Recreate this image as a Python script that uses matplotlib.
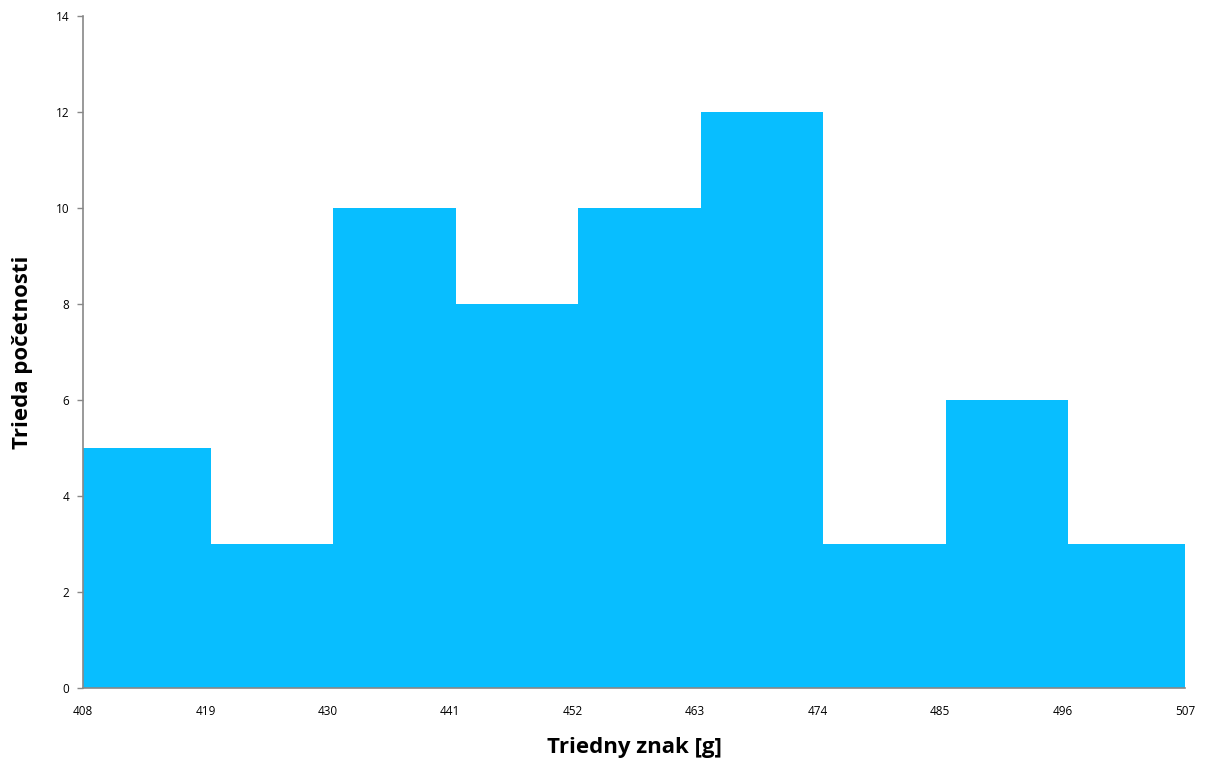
import numpy as np
import matplotlib
matplotlib.use("Agg")
import matplotlib.pyplot as plt

# Class boundaries and frequencies
binEdges = [408, 419, 430, 441, 452, 463, 474, 485, 496, 507]
counts = [5, 3, 10, 8, 10, 12, 3, 6, 3]
yTicks = [0, 2, 4, 6, 8, 10, 12, 14]

plt.rcParams['font.family'] = ['Open Sans', 'DejaVu Sans']

fig = plt.figure(figsize=(12.08, 7.64), dpi=100)
ax = fig.add_axes([0.0687, 0.0995, 0.9123, 0.8795])

# Bars span the full class width, no gaps; slight shift right, clipped at the axis ends
shift = 0.5
widths = np.diff(binEdges)
ax.bar(np.array(binEdges[:-1]) + shift, counts, width=widths, align="edge",
       color="#08BEFF", edgecolor="none")
ax.bar(binEdges[0], counts[0], width=shift, align="edge", color="#08BEFF", edgecolor="none")

ax.set_xlim(binEdges[0], binEdges[-1])
ax.set_ylim(0, 14)
ax.set_xticks(binEdges)
ax.set_xticklabels([str(b) for b in binEdges], fontsize=8.5)
ax.set_yticks(yTicks)
ax.set_yticklabels([str(t) for t in yTicks], fontsize=8.5)

ax.tick_params(axis="x", length=0, pad=12)
ax.tick_params(axis="y", length=4, width=1, color="#888888", pad=6)

for side in ["top", "right"]:
    ax.spines[side].set_visible(False)
for side in ["left", "bottom"]:
    ax.spines[side].set_color("#888888")
    ax.spines[side].set_linewidth(1.2)

ax.set_xlabel("Triedny znak [g]", fontsize=16, fontweight="bold", labelpad=14)
ax.set_ylabel("Trieda početnosti", fontsize=16, fontweight="bold", labelpad=16)

fig.savefig("out.png", dpi=100)
